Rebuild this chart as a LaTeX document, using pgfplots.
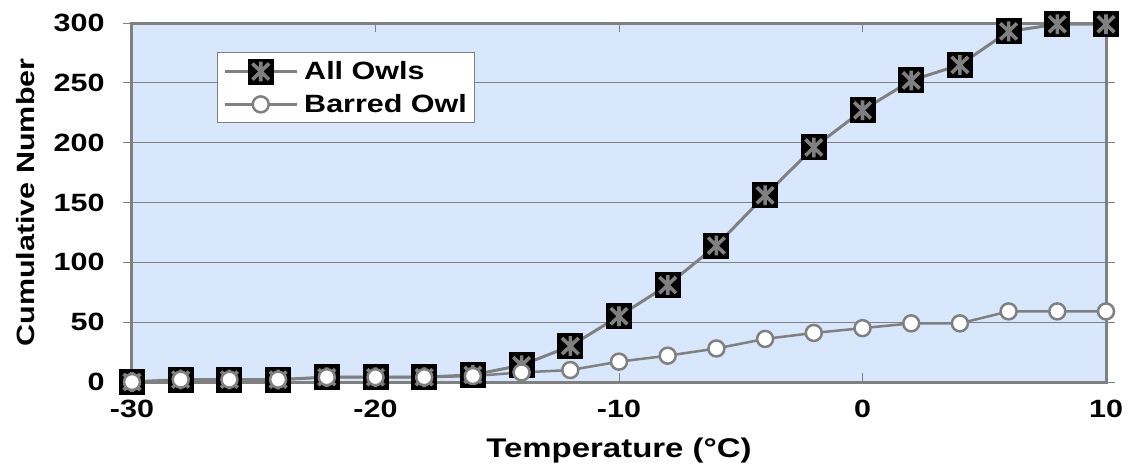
\documentclass[border=0pt]{standalone}
\usepackage{fontspec}
\setmainfont{Liberation Sans}[FakeStretch=1.22]
\usepackage{pgfplots}
\pgfplotsset{compat=1.18}
\definecolor{plotbg}{RGB}{217,231,252}
\definecolor{lgray}{RGB}{128,128,128}
\pgfdeclareplotmark{sqast}{%
  \pgfpathrectangle{\pgfqpoint{-\pgfplotmarksize}{-\pgfplotmarksize}}{\pgfqpoint{2\pgfplotmarksize}{2\pgfplotmarksize}}%
  \pgfsetfillcolor{black}%
  \pgfusepathqfill
  \pgfsetstrokecolor{lgray}%
  \pgfsetlinewidth{3.6bp}%
  \pgfsetbuttcap
  \pgfpathmoveto{\pgfqpoint{0pt}{-0.76\pgfplotmarksize}}\pgfpathlineto{\pgfqpoint{0pt}{0.76\pgfplotmarksize}}%
  \pgfpathmoveto{\pgfqpoint{-0.64\pgfplotmarksize}{-0.62\pgfplotmarksize}}\pgfpathlineto{\pgfqpoint{0.64\pgfplotmarksize}{0.62\pgfplotmarksize}}%
  \pgfpathmoveto{\pgfqpoint{-0.64\pgfplotmarksize}{0.62\pgfplotmarksize}}\pgfpathlineto{\pgfqpoint{0.64\pgfplotmarksize}{-0.62\pgfplotmarksize}}%
  \pgfusepathqstroke
}
\newcommand{\chartfont}{\bfseries\fontsize{25bp}{28bp}\selectfont}
\newcommand{\xlabfont}{\bfseries\fontsize{27bp}{30bp}\selectfont}
\begin{document}
\begin{tikzpicture}
\path[use as bounding box] (-132bp,-89bp) rectangle (1003bp,382bp);
\begin{axis}[
  at={(0,0)}, anchor=south west,
  scale only axis, width=974bp, height=359bp,
  xmin=-30, xmax=10, ymin=0, ymax=300,
  xtick={-30,-20,-10,0,10}, xticklabels={-30,-20,-10,0,10},
  ytick={0,50,100,150,200,250,300}, yticklabels={0,50,100,150,200,250,300},
  axis background/.style={fill=plotbg},
  axis line style={lgray, line width=3bp},
  ymajorgrids, grid style={lgray, line width=1bp},
  xtick align=inside, ytick align=outside,
  major tick length=9bp,
  tick style={lgray, line width=1bp},
  ticklabel style={font=\chartfont},
  xticklabel style={yshift=-15bp},
  yticklabel style={xshift=-15bp},
  ylabel style={font=\chartfont, at={(axis description cs:-0.109,0.5)}, anchor=center},
  xlabel style={font=\xlabfont, at={(axis description cs:0.5,-0.19)}, anchor=center},
  xlabel={Temperature (°C)}, ylabel={Cumulative Number},
  clip=false,
  legend cell align=left,
  legend image code/.code={\draw[mark repeat=2,mark phase=2] plot coordinates {(0bp,0bp)(36bp,0bp)(72bp,0bp)};},
  legend style={at={(axis description cs:0.087,0.919)}, anchor=north west, draw=lgray, fill=white, line width=1bp, font=\chartfont, inner xsep=6bp, inner ysep=6bp, row sep=8bp, column sep=4bp},
]
\addplot[lgray, line width=3bp, mark=sqast, mark size=13bp] coordinates {
(-30,0) (-28,2) (-26,2) (-24,2) (-22,4) (-20,4) (-18,4) (-16,6) (-14,14) (-12,30)
(-10,55) (-8,81) (-6,114) (-4,156) (-2,196) (0,227) (2,252) (4,265) (6,293) (8,299) (10,299)};
\addlegendentry{All Owls}
\addplot[lgray, line width=2.5bp, mark=*, mark size=8bp, mark options={fill=white, draw=lgray}] coordinates {
(-30,0) (-28,2) (-26,2) (-24,2) (-22,4) (-20,4) (-18,4) (-16,5) (-14,8) (-12,10)
(-10,17) (-8,22) (-6,28) (-4,36) (-2,41) (0,45) (2,49) (4,49) (6,59) (8,59) (10,59)};
\addlegendentry{Barred Owl}
\end{axis}
\end{tikzpicture}
\end{document}
